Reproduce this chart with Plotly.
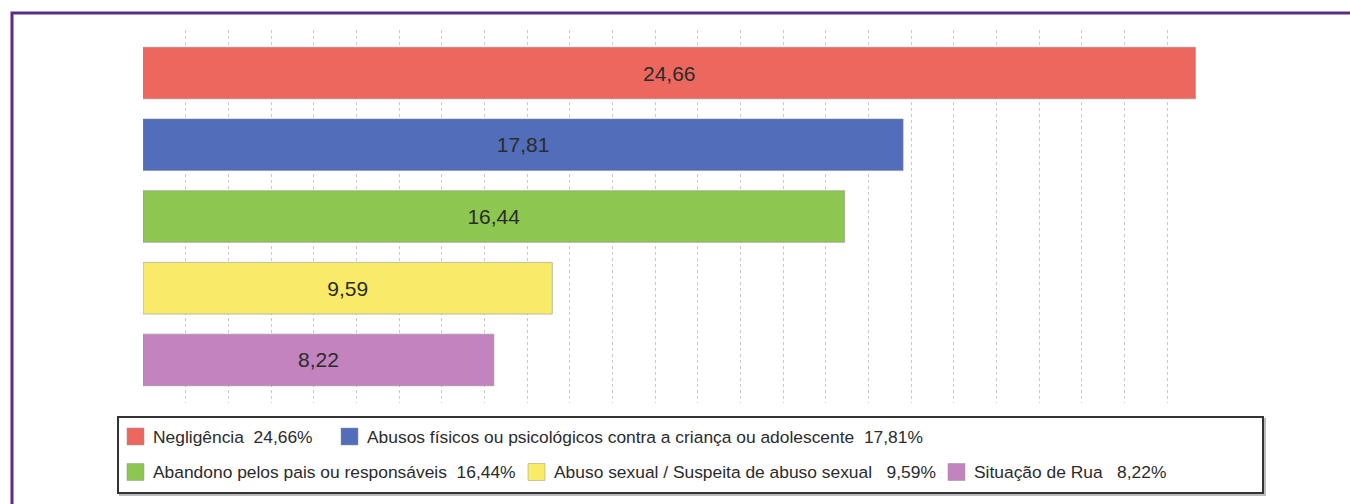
import plotly.graph_objects as go

# ---- data ----
categories = [
    "Negligência",
    "Abusos físicos ou psicológicos contra a criança ou adolescente",
    "Abandono pelos pais ou responsáveis",
    "Abuso sexual / Suspeita de abuso sexual",
    "Situação de Rua",
]
values = [24.66, 17.81, 16.44, 9.59, 8.22]
bar_labels = ["24,66", "17,81", "16,44", "9,59", "8,22"]
legend_values = ["24,66%", "17,81%", "16,44%", "9,59%", "8,22%"]
colors = ["#EC685F", "#526DB9", "#8DC74F", "#F9EB68", "#C383BE"]

W, H = 1350, 504
L, R, T, B = 143, 140, 30, 101
PW, PH = W - L - R, H - T - B


def px(x):
    return (x - L) / PW


def py(y):
    return (H - B - y) / PH


FONT = "Liberation Sans, Arial, Helvetica, sans-serif"

fig = go.Figure()
fig.add_trace(go.Bar(
    y=categories,
    x=values,
    orientation="h",
    marker=dict(color=colors, line=dict(color="rgba(140,140,140,0.55)", width=1)),
    width=0.72,
    text=bar_labels,
    textposition="inside",
    insidetextanchor="middle",
    textfont=dict(family=FONT, size=21, color="#2b2b2b"),
    hoverinfo="skip",
    showlegend=False,
))

shapes = []
annotations = []

# outer purple frame (open at right/bottom, extends beyond page)
shapes.append(dict(type="rect", xref="paper", yref="paper",
                   x0=px(12), x1=px(1365), y0=py(13), y1=py(530),
                   line=dict(color="#5B2C86", width=3), fillcolor="rgba(0,0,0,0)", layer="above"))

# legend box (shadow + box)
shapes.append(dict(type="rect", xref="paper", yref="paper",
                   x0=px(120), x1=px(1265), y0=py(419), y1=py(495),
                   line=dict(color="#bbbbbb", width=2), fillcolor="rgba(0,0,0,0)"))
shapes.append(dict(type="rect", xref="paper", yref="paper",
                   x0=px(118), x1=px(1263), y0=py(417), y1=py(493),
                   line=dict(color="#333333", width=2), fillcolor="white"))

# legend entries: (row centre y, square left x)
legend_layout = [(436.5, 127), (436.5, 341), (472, 127), (472, 528), (472, 948)]
spacers = ["\u00a0\u00a0", "\u00a0\u00a0", "\u00a0\u00a0", "\u00a0\u00a0\u00a0", "\u00a0\u00a0\u00a0"]
for (cy, sx), name, val, col, sp in zip(legend_layout, categories, legend_values, colors, spacers):
    shapes.append(dict(type="rect", xref="paper", yref="paper",
                       x0=px(sx), x1=px(sx + 17), y0=py(cy - 8.5), y1=py(cy + 8.5),
                       line=dict(color="rgba(150,150,150,0.5)", width=1), fillcolor=col))
    annotations.append(dict(xref="paper", yref="paper", x=px(sx + 24), y=py(cy),
                            xanchor="left", yanchor="middle", showarrow=False,
                            text=name + sp + val,
                            font=dict(family=FONT, size=17.4, color="#2b2b2b")))

fig.update_layout(
    width=W, height=H,
    margin=dict(l=L, r=R, t=T, b=B, pad=0),
    paper_bgcolor="white", plot_bgcolor="white",
    xaxis=dict(range=[0, 25], dtick=1, showgrid=True, gridcolor="#c8c8c8",
               griddash="dot", gridwidth=1, showticklabels=False, zeroline=False,
               showline=False, ticks="", fixedrange=True),
    yaxis=dict(autorange=False, range=[4.6, -0.6], showticklabels=False, showgrid=False,
               zeroline=False, showline=False, ticks="", fixedrange=True),
    shapes=shapes,
    annotations=annotations,
    showlegend=False,
)

fig.write_html("out.html", config={"displayModeBar": False},
               post_script="document.body.style.margin='0';document.body.style.overflow='hidden';")
